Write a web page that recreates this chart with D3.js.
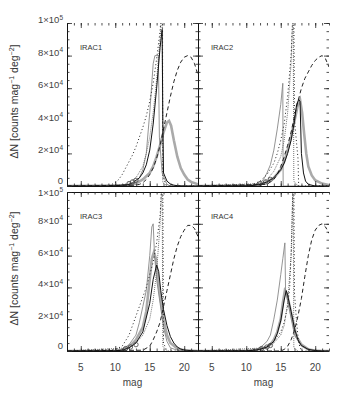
<!DOCTYPE html>
<html>
<head>
<meta charset="utf-8">
<script src="https://cdn.jsdelivr.net/npm/d3@7"></script>
<style>
  body { margin: 0; background: #fff; }
  text { font-family: "Liberation Sans", Arial, sans-serif; }
</style>
</head>
<body>
<script>
// tick values and labels
const MAG_TICKS = [5, 10, 15, 20];
const MAG_MINOR = d3.range(3, 23, 1);
const COUNT_TICKS = [0, 20000, 40000, 60000, 80000, 100000];
const COUNT_MINOR = d3.range(0, 100001, 5000);
const COUNT_LABELS = [["0", ""], ["2×10", "4"], ["4×10", "4"], ["6×10", "4"], ["8×10", "4"], ["1×10", "5"]];
const PANEL_NAMES = ["IRAC1", "IRAC2", "IRAC3", "IRAC4"];

// curves, [mag, dN]
const irac1Solid = [[3,0],[9,0],[10,200],[11,500],[12,1000],[12.5,2000],[13,3500],[13.5,5000],[14,8000],[14.5,13000],[15,22000],[15.5,38000],[16,60000],[16.5,85000],[16.8,96000],[16.9,40000],[17,8000],[17.5,3000],[18,1200],[18.5,500],[19,200],[20,0],[22,0]];
const irac1Thin = [[3,0],[12,500],[13,2500],[13.5,5000],[14,10000],[14.5,20000],[15,45000],[15.5,75000],[15.75,80000],[16.25,80000],[16.4,30000],[16.8,8000],[17.5,1000],[18,0],[22,0]];
const irac1Thick = [[3,0],[11,200],[12,500],[13,1500],[14,4000],[15,8000],[15.5,12000],[16,18000],[16.5,25000],[17,33000],[17.5,39000],[17.8,40000],[18.1,37000],[18.5,28000],[19,18000],[19.5,11000],[20,7000],[20.5,4000],[21,2500],[22,1000]];
const irac1Dotted = [[3,0],[9,0],[10,2000],[10.5,4000],[11,7000],[11.5,11000],[12,15000],[12.5,19000],[13,24000],[13.5,30000],[14,36000],[14.5,43000],[15,52000],[15.5,63000],[16,78000],[16.5,95000],[16.75,110000],[16.85,110000],[16.9,5000],[17.5,0],[22,0]];
const irac1Dense = [[3,0],[11,500],[12,2000],[13,5000],[14,12000],[14.5,20000],[15,30000],[15.5,45000],[16,65000],[16.5,90000],[16.8,110000],[16.9,2000],[17.5,0]];
const irac1Dashed = [[3,0],[13,500],[13.5,1000],[14,2000],[14.5,4000],[15,7000],[15.5,11000],[16,17000],[16.5,25000],[17,35000],[17.5,45000],[18,55000],[18.5,64000],[19,71000],[19.5,76000],[20,79000],[20.5,80000],[21,79000],[21.5,75000],[22,68000]];
const irac1Circles = [[12,1500],[12.5,2500],[13,3500]];

const irac2Solid = [[3,0],[10,100],[11,300],[12,1000],[13,2500],[14,5000],[15,10000],[15.5,14000],[16,20000],[16.5,28000],[17,40000],[17.3,50000],[17.6,53000],[17.8,52000],[18,20000],[18.3,8000],[18.6,3000],[19,1000],[20,0],[22,0]];
const irac2Thin = [[3,0],[10,200],[11,600],[12,2000],[12.5,4000],[13,8000],[13.5,13000],[14,22000],[14.5,35000],[15,50000],[15.3,63000],[15.35,0],[22,0]];
const irac2Thick = [[3,0],[11,300],[12,1000],[13,2500],[14,5000],[15,10000],[15.5,15000],[16,22000],[16.5,30000],[17,40000],[17.5,50000],[17.8,53000],[18.1,45000],[18.4,32000],[18.7,20000],[19,12000],[19.5,6500],[20,3500],[21,1500],[22,500]];
const irac2Dotted = [[3,0],[10,500],[11,1000],[12,3000],[13,7000],[14,14000],[14.5,20000],[15,28000],[15.5,38000],[16,55000],[16.5,80000],[16.8,110000],[16.9,110000],[17,40000],[17.5,17000],[17.6,0],[22,0]];
const irac2Dense = [[3,0],[12,1500],[13,4000],[14,9000],[15,18000],[15.5,28000],[16,45000],[16.5,75000],[16.8,110000],[16.9,3000],[17.5,0]];
const irac2Dashed = [[3,0],[13,1000],[14,4000],[14.5,7000],[15,12000],[15.5,18000],[16,25000],[16.5,33000],[17,43000],[17.5,52000],[18,60000],[18.5,66000],[19,70000],[19.5,74000],[20,77000],[20.5,79000],[21,80000],[21.5,78000],[22,73000]];
const irac2Circles = [[12,1500],[12.8,2500],[13.5,4000]];

const irac3Solid = [[3,0],[10,100],[11,500],[12,2000],[13,5000],[14,12000],[15,30000],[15.5,45000],[16,54000],[16.3,50000],[16.6,38000],[17,26000],[17.5,16000],[18,9000],[18.5,5000],[19,2500],[19.5,1200],[20,600],[21,200],[22,0]];
const irac3Thin = [[3,0],[10,300],[11,1000],[12,4000],[13,10000],[13.5,18000],[14,28000],[14.5,38000],[15,60000],[15.3,78000],[15.5,80000],[15.7,60000],[16,45000],[16.5,30000],[17,15000],[17.5,6000],[18,2000],[19,500],[20,0],[22,0]];
const irac3Thick = [[3,0],[10,200],[11,700],[12,2500],[13,7000],[14,15000],[14.5,25000],[15,45000],[15.3,58000],[15.6,62000],[15.9,58000],[16.2,45000],[16.5,35000],[17,20000],[17.5,10000],[18,5000],[19,1500],[20,500],[22,0]];
const irac3Dotted = [[3,0],[10,1000],[11,3000],[12,10000],[12.5,16000],[13,22000],[13.5,28000],[14,34000],[14.5,40000],[15,48000],[15.5,56000],[16,68000],[16.5,85000],[16.8,110000],[16.9,110000],[17,5000],[17.5,0],[22,0]];
const irac3Dense = [[3,0],[12,2000],[13,5000],[14,10000],[15,20000],[15.5,32000],[16,50000],[16.5,80000],[16.8,110000],[16.9,3000],[17.5,0]];
const irac3Dashed = [[3,0],[14,500],[15,3000],[15.5,7000],[16,12000],[16.5,18000],[17,28000],[17.5,38000],[18,48000],[18.5,58000],[19,66000],[19.5,72000],[20,76000],[20.5,79000],[21,79000],[21.5,77000],[22,72000]];
const irac3Circles = [[11.5,1500],[12.2,2500],[13,4000]];

const irac4Solid = [[3,0],[10,100],[11,400],[12,1000],[13,2500],[14,6000],[14.5,11000],[15,19000],[15.5,32000],[15.8,38000],[16,35000],[16.5,25000],[17,14000],[17.5,7000],[18,3500],[19,1000],[20,300],[21,0],[22,0]];
const irac4Thin = [[3,0],[10,200],[11,700],[12,2000],[13,6000],[13.5,10000],[14,20000],[14.5,32000],[15,48000],[15.3,58000],[15.6,68000],[15.7,38000],[16.3,25000],[17,10000],[18,3000],[19,800],[20,0],[22,0]];
const irac4Thick = [[3,0],[10,200],[11,500],[12,1200],[13,2500],[13.5,4000],[14,7000],[14.5,12000],[15,20000],[15.3,30000],[15.6,38000],[15.9,36000],[16.3,28000],[16.8,18000],[17.3,9000],[18,4000],[19,1000],[20,300],[21,0],[22,0]];
const irac4Dotted = [[3,0],[11,500],[12,1500],[13,3000],[14,6000],[15,12000],[15.5,18000],[16,28000],[16.3,40000],[16.6,70000],[16.8,110000],[16.9,110000],[17,36000],[17.3,18000],[17.6,5000],[18,0],[22,0]];
const irac4Dense = [[3,0],[13,2000],[14,5000],[15,10000],[15.5,16000],[16,30000],[16.5,60000],[16.8,110000],[16.9,2000],[17.5,0]];
const irac4Dashed = [[3,0],[15,0],[15.5,1000],[16,3000],[16.5,7000],[17,13000],[17.5,22000],[18,33000],[18.5,47000],[19,60000],[19.5,70000],[20,76000],[20.5,79000],[21,80000],[21.5,78000],[22,74000]];
const irac4Circles = [[12.2,1500],[13,2500],[13.5,3500]];

const panelData = [
  {solid: irac1Solid, thin: irac1Thin, thick: irac1Thick, dotted: irac1Dotted, dense: irac1Dense, dashed: irac1Dashed, circles: irac1Circles},
  {solid: irac2Solid, thin: irac2Thin, thick: irac2Thick, dotted: irac2Dotted, dense: irac2Dense, dashed: irac2Dashed, circles: irac2Circles},
  {solid: irac3Solid, thin: irac3Thin, thick: irac3Thick, dotted: irac3Dotted, dense: irac3Dense, dashed: irac3Dashed, circles: irac3Circles},
  {solid: irac4Solid, thin: irac4Thin, thick: irac4Thick, dotted: irac4Dotted, dense: irac4Dense, dashed: irac4Dashed, circles: irac4Circles}
];

const WIDTH = 350;
const HEIGHT = 400;
const COLS = [67, 198, 329];
const ROWS = [[23, 186], [192, 351]];

const svg = d3.select("body").append("svg")
  .attr("width", WIDTH)
  .attr("height", HEIGHT);

const styles = {
  thick:  {stroke: "#aaa", width: 2.6, dash: null},
  thin:   {stroke: "#888", width: 0.9, dash: null},
  dense:  {stroke: "#777", width: 1, dash: "1,1"},
  dashed: {stroke: "#222", width: 1, dash: "4,3"},
  dotted: {stroke: "#222", width: 1, dash: "1,2.5"},
  solid:  {stroke: "#111", width: 1, dash: null}
};

panelData.forEach((pd, i) => {
  const col = i % 2, row = Math.floor(i / 2);
  const x0 = COLS[col], x1 = COLS[col + 1];
  const y0 = ROWS[row][0], y1 = ROWS[row][1];

  const x = d3.scaleLinear().domain([3, 22]).range([x0, x1]);
  const y = d3.scaleLinear().domain([0, 100000]).range([y1, y0]);

  const g = svg.append("g");
  const clipId = "clip" + i;
  g.append("clipPath").attr("id", clipId)
    .append("rect").attr("x", x0).attr("y", y0).attr("width", x1 - x0).attr("height", y1 - y0);

  const line = d3.line().x(d => x(d[0])).y(d => y(d[1]));
  const curves = g.append("g").attr("clip-path", `url(#${clipId})`);

  ["thick", "thin", "dense", "dashed", "dotted", "solid"].forEach(key => {
    const s = styles[key];
    curves.append("path")
      .datum(pd[key])
      .attr("d", line)
      .attr("fill", "none")
      .attr("stroke", s.stroke)
      .attr("stroke-width", s.width)
      .attr("stroke-dasharray", s.dash);
  });

  curves.selectAll("circle.pt")
    .data(pd.circles)
    .enter().append("circle")
    .attr("class", "pt")
    .attr("cx", d => x(d[0]))
    .attr("cy", d => y(d[1]))
    .attr("r", 2.2)
    .attr("fill", "none")
    .attr("stroke", "#444")
    .attr("stroke-width", 0.8);

  // axes, ticks pointing inward
  const axisStyle = (sel, keepDomain) => {
    sel.selectAll("text").remove();
    sel.selectAll("line").attr("stroke", "#222").attr("stroke-width", 0.8);
    if (keepDomain) sel.select(".domain").attr("stroke", "#111").attr("stroke-width", 1);
    else sel.select(".domain").remove();
  };

  g.append("g").attr("transform", `translate(0,${y1})`)
    .call(d3.axisBottom(x).tickValues(MAG_MINOR).tickSizeInner(-2.5).tickSizeOuter(0))
    .call(s => axisStyle(s, true));
  g.append("g").attr("transform", `translate(0,${y1})`)
    .call(d3.axisBottom(x).tickValues(MAG_TICKS).tickSizeInner(-5).tickSizeOuter(0))
    .call(s => axisStyle(s, false));
  g.append("g").attr("transform", `translate(0,${y0})`)
    .call(d3.axisTop(x).tickValues(MAG_MINOR).tickSizeInner(-2.5).tickSizeOuter(0))
    .call(s => axisStyle(s, row === 1));
  g.append("g").attr("transform", `translate(0,${y0})`)
    .call(d3.axisTop(x).tickValues(MAG_TICKS).tickSizeInner(-5).tickSizeOuter(0))
    .call(s => axisStyle(s, false));

  g.append("g").attr("transform", `translate(${x0},0)`)
    .call(d3.axisLeft(y).tickValues(COUNT_MINOR).tickSizeInner(-2.5).tickSizeOuter(0))
    .call(s => axisStyle(s, true));
  g.append("g").attr("transform", `translate(${x0},0)`)
    .call(d3.axisLeft(y).tickValues(COUNT_TICKS).tickSizeInner(-5).tickSizeOuter(0))
    .call(s => axisStyle(s, false));
  g.append("g").attr("transform", `translate(${x1},0)`)
    .call(d3.axisRight(y).tickValues(COUNT_MINOR).tickSizeInner(-2.5).tickSizeOuter(0))
    .call(s => axisStyle(s, col === 0));
  g.append("g").attr("transform", `translate(${x1},0)`)
    .call(d3.axisRight(y).tickValues(COUNT_TICKS).tickSizeInner(-5).tickSizeOuter(0))
    .call(s => axisStyle(s, false));

  // panel label
  g.append("text")
    .attr("x", x0 + 13)
    .attr("y", y0 + 27)
    .attr("font-size", "7.5px")
    .attr("fill", "#333")
    .text(PANEL_NAMES[i]);

  // y tick labels on left panels, sitting just above their ticks
  if (col === 0) {
    COUNT_TICKS.forEach((v, k) => {
      let base = y(v);
      if (v === 0) base -= 2;
      if (v === 100000 && row === 1) base += 3.5;
      const t = g.append("text")
        .attr("x", x0 - 4)
        .attr("y", base)
        .attr("text-anchor", "end")
        .attr("font-size", "9.5px")
        .attr("fill", "#444");
      t.append("tspan").text(COUNT_LABELS[k][0]);
      if (COUNT_LABELS[k][1]) {
        t.append("tspan").attr("dy", -3.5).attr("font-size", "6.5px").text(COUNT_LABELS[k][1]);
      }
    });

    const cy = (y0 + y1) / 2 - 3;
    const title = g.append("text")
      .attr("transform", `translate(18,${cy}) rotate(-90)`)
      .attr("text-anchor", "middle")
      .attr("font-size", "10.5px")
      .attr("fill", "#333");
    title.append("tspan").text("ΔN  [counts mag");
    title.append("tspan").attr("dy", -4).attr("font-size", "7px").text("−1");
    title.append("tspan").attr("dy", 4).text(" deg");
    title.append("tspan").attr("dy", -4).attr("font-size", "7px").text("−2");
    title.append("tspan").attr("dy", 4).text("]");
  }

  // x tick labels on bottom panels
  if (row === 1) {
    g.selectAll("text.xl")
      .data(MAG_TICKS)
      .enter().append("text")
      .attr("class", "xl")
      .attr("x", d => x(d))
      .attr("y", y1 + 20)
      .attr("text-anchor", "middle")
      .attr("font-size", "10px")
      .attr("fill", "#444")
      .text(d => d);
    g.append("text")
      .attr("x", (x0 + x1) / 2)
      .attr("y", y1 + 35)
      .attr("text-anchor", "middle")
      .attr("font-size", "10px")
      .attr("fill", "#444")
      .text("mag");
  }
});
</script>
</body>
</html>
